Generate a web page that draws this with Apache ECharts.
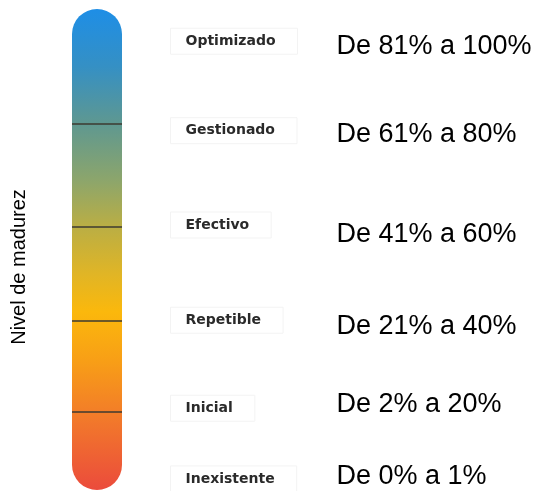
<!DOCTYPE html>
<html>
<head>
<meta charset="utf-8">
<script src="https://cdn.jsdelivr.net/npm/echarts@6/dist/echarts.min.js"></script>
<style>html,body{margin:0;padding:0;background:#fff}#c{width:536px;height:491px}</style>
</head>
<body>
<div id="c"></div>
<script>
// Maturity levels (top to bottom)
var levels = ['Optimizado', 'Gestionado', 'Efectivo', 'Repetible', 'Inicial', 'Inexistente'];
// Percentage range per level
var ranges = ['De 81% a 100%', 'De 61% a 80%', 'De 41% a 60%', 'De 21% a 40%', 'De 2% a 20%', 'De 0% a 1%'];
// Position of each level label on the 0-100 scale
var levelPos = [93.3, 74.7, 55.1, 35.3, 17.0, 2.3];
// Position of each range text on the 0-100 scale
var rangePos = [92.2, 74.0, 53.2, 33.9, 17.7, 2.9];
// Boundaries between levels on the 0-100 scale
var dividers = [76.1, 54.7, 35.1, 16.2];
// Full scale
var scaleMax = 100;
var axisTitle = 'Nivel de madurez';

var chart = echarts.init(document.getElementById('c'));
var gradient = new echarts.graphic.LinearGradient(0, 0, 0, 1, [
  {offset: 0.00, color: '#1e8ee6'},
  {offset: 0.12, color: '#3590c4'},
  {offset: 0.24, color: '#5f9890'},
  {offset: 0.36, color: '#8ea66a'},
  {offset: 0.45, color: '#b9ae45'},
  {offset: 0.55, color: '#e0b526'},
  {offset: 0.63, color: '#fbb80c'},
  {offset: 0.73, color: '#f89f16'},
  {offset: 0.85, color: '#f27a2a'},
  {offset: 1.00, color: '#eb4b3c'}
]);

chart.setOption({
  animation: false,
  backgroundColor: '#fff',
  grid: [
    {left: 72, width: 50, top: 9, bottom: 1},
    {left: 170, right: 200, top: 9, bottom: 1}
  ],
  xAxis: [
    {gridIndex: 0, type: 'category', data: ['nivel'], show: false},
    {gridIndex: 1, type: 'category', data: ['nivel', 'rango'], boundaryGap: false, show: false}
  ],
  yAxis: [
    {gridIndex: 0, type: 'value', min: 0, max: scaleMax, show: false},
    {gridIndex: 1, type: 'value', min: 0, max: scaleMax, show: false}
  ],
  graphic: [{
    type: 'text', x: 19, y: 267, rotation: Math.PI / 2,
    style: {text: axisTitle, fill: '#000', font: '20px "Liberation Sans", Arial', textAlign: 'center', textVerticalAlign: 'middle'}
  }],
  series: [
    {
      type: 'bar', xAxisIndex: 0, yAxisIndex: 0,
      data: [scaleMax], barWidth: '100%',
      itemStyle: {color: gradient, borderRadius: 25},
      silent: true,
      markLine: {
        silent: true, symbol: 'none', label: {show: false},
        lineStyle: {color: '#3c3a30', width: 1.5, type: 'solid'},
        data: dividers.map(function (v) { return {yAxis: v}; })
      }
    },
    {
      type: 'scatter', xAxisIndex: 1, yAxisIndex: 1, symbolSize: 1, silent: true,
      itemStyle: {color: '#ffffff', opacity: 1},
      data: levels.map(function (n, i) { return {name: n, value: ['nivel', levelPos[i]]}; }),
      label: {
        show: true, position: 'right', distance: 0, formatter: '{b}',
        fontFamily: 'DejaVu Sans', fontWeight: 'bold', fontSize: 14, color: '#2a2a2a',
        borderColor: '#f3f3f3', borderWidth: 1, padding: [6, 22, 6, 15]
      }
    },
    {
      type: 'scatter', xAxisIndex: 1, yAxisIndex: 1, symbolSize: 1, silent: true,
      itemStyle: {color: '#ffffff', opacity: 1},
      data: ranges.map(function (n, i) { return {name: n, value: ['rango', rangePos[i]]}; }),
      label: {
        show: true, position: 'right', distance: 0, formatter: '{b}',
        fontFamily: '"Liberation Sans", Arial', fontSize: 27, color: '#000000', opacity: 1
      }
    }
  ]
});
</script>
</body>
</html>
